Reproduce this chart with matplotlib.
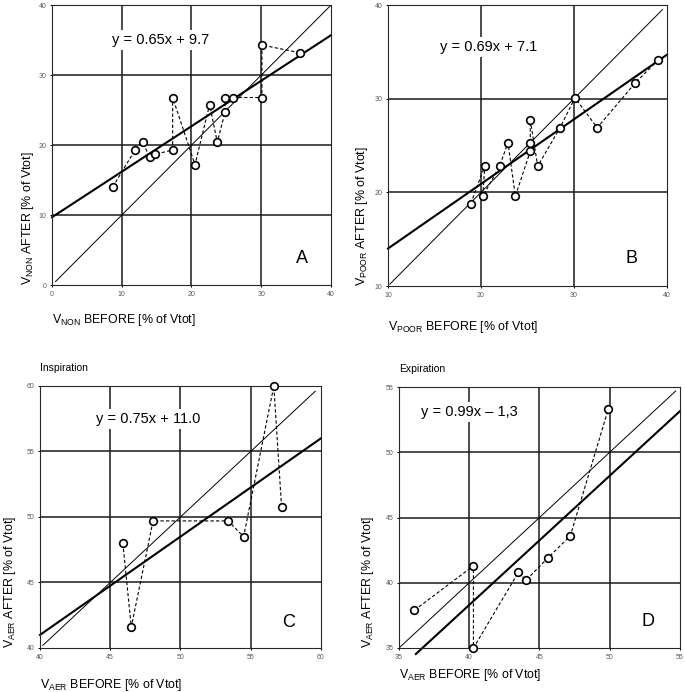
#!/usr/bin/env python
"""Four-panel before/after ventilation scatter (panels A-D)."""

import matplotlib
matplotlib.use("Agg")
import matplotlib.pyplot as plt

plt.rcParams["font.family"] = ["Liberation Sans", "DejaVu Sans"]
plt.rcParams["mathtext.default"] = "regular"

# Panel A: V_NON
a_before = [8.7, 11.9, 13.0, 14.0, 14.8, 17.3, 17.3, 20.5, 22.6, 23.7, 24.8, 24.8, 25.9, 30.1, 30.1, 35.5]
a_after = [14.0, 19.3, 20.4, 18.3, 18.7, 19.3, 26.8, 17.2, 25.8, 20.4, 24.7, 26.8, 26.8, 26.8, 34.3, 33.2]
a_fit = (0.65, 9.7)

# Panel B: V_POOR
b_before = [18.9, 20.4, 20.2, 22.0, 22.9, 23.7, 25.3, 25.3, 25.3, 26.1, 28.5, 30.1, 32.5, 36.6, 39.0]
b_after = [18.8, 22.8, 19.6, 22.8, 25.3, 19.6, 24.4, 25.3, 27.7, 22.8, 26.9, 30.1, 26.9, 31.7, 34.1]
b_fit = (0.69, 7.1)

# Panel C: V_AER, inspiration
c_before = [45.9, 46.5, 48.05, 53.4, 54.5, 56.65, 57.2]
c_after = [48.0, 41.6, 49.7, 49.7, 48.5, 60.0, 50.8]
c_fit = (0.75, 11.0)

# Panel D: V_AER, expiration
d_before = [36.1, 40.3, 40.3, 43.5, 44.05, 45.6, 47.2, 49.9]
d_after = [37.9, 41.3, 35.0, 40.8, 40.2, 41.9, 43.6, 53.3]
d_fit = (0.99, -1.3)

fig = plt.figure(figsize=(6.85, 6.92), dpi=100)


def panel(rect, xb, ya, fit, lim, step, ident, fitx, eq, eqpos, letter, letpos, sub,
          xlab_y, ylab_x, title=None):
    ax = fig.add_axes(rect)
    lo, hi = lim
    ticks = list(range(lo, hi + 1, step))
    ax.set_xlim(lo, hi)
    ax.set_ylim(lo, hi)
    ax.set_xticks(ticks)
    ax.set_yticks(ticks)
    ax.tick_params(length=1.5, width=0.7, labelsize=5, labelcolor="0.35", pad=2.5)
    for s in ax.spines.values():
        s.set_linewidth(0.8)
        s.set_color("0.15")
    for t in ticks[1:-1]:
        ax.axvline(t, color="0.1", lw=1.1, zorder=1)
        ax.axhline(t, color="0.1", lw=1.1, zorder=1)
    # identity and regression lines
    ax.plot(ident, ident, color="black", lw=0.7, zorder=2)
    m, b = fit
    ax.plot(fitx, [m * v + b for v in fitx], color="black", lw=1.5, zorder=2, clip_on=False)
    ax.plot(xb, ya, color="black", lw=0.8, ls=(0, (3, 2)), zorder=3)
    ax.plot(xb, ya, ls="none", marker="o", ms=5.5, mfc="white", mec="black", mew=1.2,
            zorder=4, clip_on=False)
    ax.text(eqpos[0], eqpos[1], eq, fontsize=10.5, ha="center", va="center", zorder=5,
            bbox=dict(facecolor="white", edgecolor="none", pad=2))
    ax.text(letpos[0], letpos[1], letter, fontsize=13, ha="center", va="center", zorder=5)
    ax.text(0.0, xlab_y, "V$_{%s}$ BEFORE [%% of Vtot]" % sub, transform=ax.transAxes,
            fontsize=8.9, ha="left", va="top")
    ax.text(ylab_x, 0.0, "V$_{%s}$ AFTER [%% of Vtot]" % sub, transform=ax.transAxes,
            fontsize=8.9, ha="center", va="bottom", rotation=90)
    if title:
        ax.text(0.0, 1.05, title, transform=ax.transAxes, fontsize=7.5, ha="left", va="bottom")
    return ax


panel([0.0759, 0.588, 0.4073, 0.4046], a_before, a_after, a_fit, (0, 40), 10,
      [0.5, 40], [0, 40], "y = 0.65x + 9.7", (15.6, 35.0), "A", (35.9, 3.8), "NON",
      -0.096, -0.086)
panel([0.5664, 0.5867, 0.4073, 0.406], b_before, b_after, b_fit, (10, 40), 10,
      [10.2, 39.5], [10, 40], "y = 0.69x + 7.1", (20.8, 35.5), "B", (36.2, 12.95), "POOR",
      -0.117, -0.093)
panel([0.0584, 0.0636, 0.410, 0.3786], c_before, c_after, c_fit, (40, 60), 5,
      [40.2, 59.6], [40, 60], "y = 0.75x + 11.0", (47.7, 57.5), "C", (57.7, 41.95), "AER",
      -0.11, -0.107, title="Inspiration")
panel([0.5825, 0.0636, 0.410, 0.377], d_before, d_after, d_fit, (35, 55), 5,
      [35, 54.7], [36.2, 55], "y = 0.99x \u2013 1,3", (40.0, 53.1), "D", (52.7, 37.0), "AER",
      -0.073, -0.11, title="Expiration")

fig.savefig("out.png", dpi=100)
